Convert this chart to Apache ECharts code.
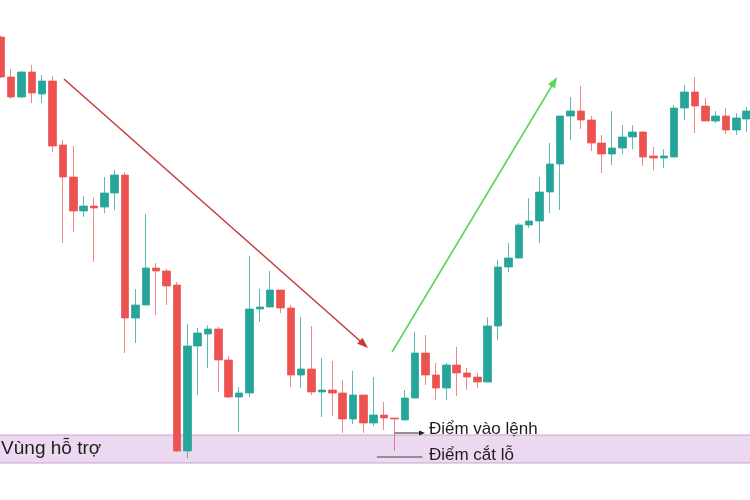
<!DOCTYPE html>
<html>
<head>
<meta charset="utf-8">
<script src="https://cdn.jsdelivr.net/npm/echarts@6/dist/echarts.min.js"></script>
<style>html,body{margin:0;padding:0;background:#fff}#c{width:750px;height:500px}</style>
</head>
<body>
<div id="c"></div>
<script>
// ---- data (price units) ----
const categories = Array.from({length: 73}, (_, i) => 'N' + (i + 1));
const opens  = [463,423,403,428,406,419,355,323,289,294,293,307,325,182,195,232,229,215,49,154,166,171,140,103,107,191,193,210,192,125,131,108,110,107,81,105,77,85,82,80,102,147,125,112,135,127,123,118,174,233,242,275,279,308,336,384,389,380,357,346,352,363,368,344,342,343,392,408,394,379,384,370,381];
const closes = [423,403,428,407,419,354,323,289,294,292,307,325,182,195,232,229,214,49,154,167,171,140,103,107,191,193,210,192,125,131,108,110,107,81,105,77,85,82,81,102,147,125,112,135,127,123,118,174,233,242,275,279,308,336,384,389,380,357,346,352,363,368,343,342,344,392,408,394,379,384,370,382,389];
const lows   = [422,401,402,397,397,348,257,268,283,238,287,290,147,157,195,185,195,48,42,105,132,108,102,68,103,178,193,187,113,112,105,83,84,67,76,67,74,70,49,80,102,115,100,100,104,110,112,118,160,228,242,272,257,287,290,360,371,349,327,335,346,351,334,330,332,343,380,367,379,377,366,365,368];
const highs  = [464,431,429,435,425,424,360,354,304,302,323,330,328,211,286,237,231,218,176,172,175,173,144,113,244,211,229,210,195,183,174,142,139,120,129,105,123,98,82,110,168,165,137,137,153,132,127,183,240,257,277,302,323,357,384,403,414,384,365,389,375,375,369,353,351,395,415,423,402,389,392,387,393];
const supportZone = [37, 65];
const supportLabel = 'Vùng hỗ trợ';
const entryLabel = 'Điểm vào lệnh';
const stopLabel = 'Điểm cắt lỗ';
// annotation anchors: [category index (fractional), price]
const downTrend = [[6.1, 421], [35.45, 152]];
const upTrend = [[37.77, 148], [53.7, 423]];
const entryArrow = [[38, 67], [40.95, 67]];
const stopLine = [[36.3, 43], [40.7, 43]];
const entryText = [41.33, 71];
const stopText = [41.33, 45];

const candles = opens.map((o, i) => [o, closes[i], lows[i], highs[i]]);

const RED = '#ec5350', GREEN = '#26a69a';
const chart = echarts.init(document.getElementById('c'), null, {renderer: 'canvas'});
chart.setOption({
  backgroundColor: '#ffffff',
  animation: false,
  grid: {left: -4.4, top: 0, width: 73 * 10.36, height: 500, containLabel: false, outerBoundsMode: 'none'},
  xAxis: {type: 'category', data: categories, show: false, boundaryGap: true},
  yAxis: {type: 'value', min: 0, max: 500, show: false, splitLine: {show: false}},
  series: [{
    type: 'line',
    data: [],
    z: 1,
    silent: true,
    markArea: {
      silent: true,
      itemStyle: {color: '#ecd8f0', borderColor: '#c9a4d2', borderWidth: 1},
      label: {show: true, position: 'insideLeft', distance: 6, fontSize: 19,
        fontFamily: 'Liberation Sans, Arial, sans-serif', color: '#1e1e1e'},
      data: [[{yAxis: supportZone[0], name: supportLabel}, {yAxis: supportZone[1]}]]
    }
  }, {
    type: 'candlestick',
    data: candles,
    z: 5,
    barWidth: 8,
    clip: false,
    itemStyle: {
      color: GREEN, color0: RED,
      borderColor: 'rgba(38,166,154,0.75)', borderColor0: 'rgba(236,83,80,0.7)',
      borderWidth: 1
    }
  }]
});

function px(pt) {
  const p0 = chart.convertToPixel({xAxisIndex: 0, yAxisIndex: 0}, [0, pt[1]]);
  const p1 = chart.convertToPixel({xAxisIndex: 0, yAxisIndex: 0}, [1, pt[1]]);
  return [p0[0] + pt[0] * (p1[0] - p0[0]), p0[1]];
}
function arrow(seg, color, width, hl, hw) {
  const a = px(seg[0]), b = px(seg[1]);
  const dx = b[0] - a[0], dy = b[1] - a[1];
  const L = Math.hypot(dx, dy), ux = dx / L, uy = dy / L;
  const bx = b[0] - ux * hl, by = b[1] - uy * hl;
  return [
    {type: 'line', shape: {x1: a[0], y1: a[1], x2: bx + ux * 2, y2: by + uy * 2},
     style: {stroke: color, lineWidth: width}, z: 10},
    {type: 'polygon', shape: {points: [[b[0], b[1]], [bx - uy * hw / 2, by + ux * hw / 2], [bx + uy * hw / 2, by - ux * hw / 2]]},
     style: {fill: color}, z: 10}
  ];
}
const sl0 = px(stopLine[0]), sl1 = px(stopLine[1]);
const et = px(entryText), st = px(stopText);
const font = '17px "Liberation Sans", Arial, sans-serif';
chart.setOption({
  graphic: [].concat(
    arrow(downTrend, '#c8393a', 1.5, 11, 8),
    arrow(upTrend, '#5ad65a', 1.6, 11, 8),
    arrow(entryArrow, '#222222', 1, 6, 5),
    [{type: 'line', shape: {x1: sl0[0], y1: sl0[1], x2: sl1[0], y2: sl1[1]}, style: {stroke: '#444', lineWidth: 1}, z: 10},
     {type: 'text', x: et[0], y: et[1], style: {text: entryLabel, font: font, fill: '#1e1e1e', verticalAlign: 'middle', textVerticalAlign: 'middle'}, z: 10},
     {type: 'text', x: st[0], y: st[1], style: {text: stopLabel, font: font, fill: '#1e1e1e', verticalAlign: 'middle', textVerticalAlign: 'middle'}, z: 10}]
  )
});
</script>
</body>
</html>
